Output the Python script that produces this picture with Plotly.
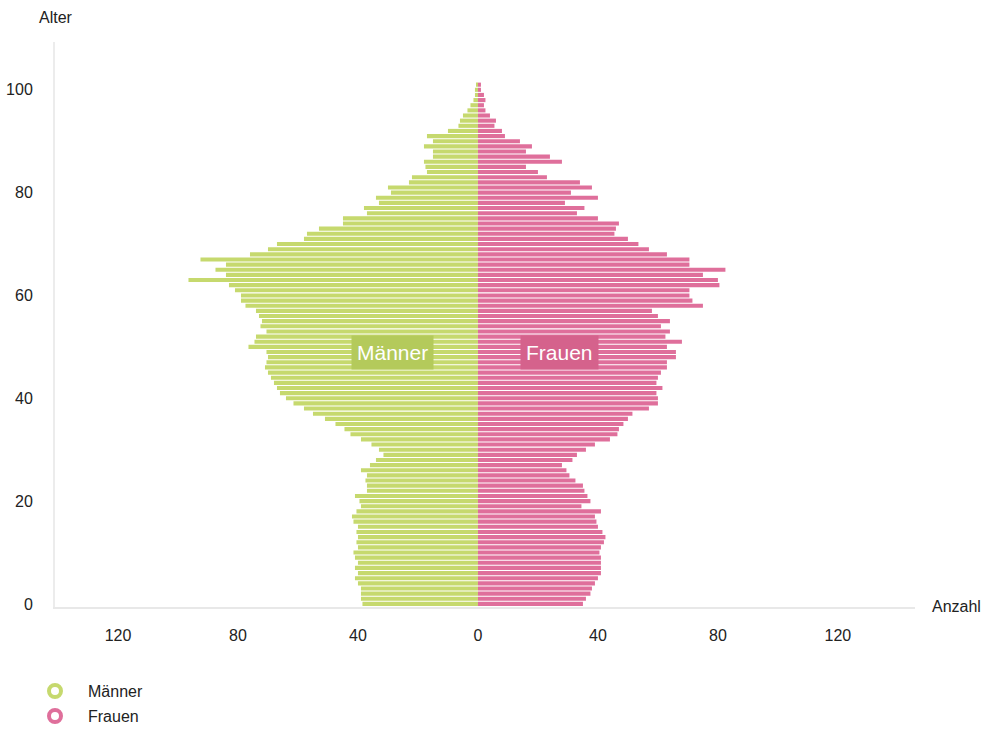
import plotly.graph_objects as go

ages = list(range(0, 102))

maenner = [38.5, 39, 39, 39, 40, 41, 40, 41, 40, 41,
           41.5, 40, 40.5, 40, 40.5, 40, 41.5, 42, 40.5, 39,
           39.5, 41, 37, 37, 37.5, 37, 39, 36, 34, 31.5,
           33, 35.5, 39, 42.5, 44.5, 47.5, 51, 55, 58, 61.5,
           64, 66, 67, 68, 69, 70, 71, 70.5, 70, 70.5,
           76.5, 74.5, 74, 70.5, 72.5, 72, 73, 74, 77.5, 79,
           79, 81, 83, 96.5, 84, 87.5, 84, 92.5, 76, 70,
           67, 58, 57, 53, 45, 45, 37, 38, 33, 34,
           29, 30, 23, 22, 17, 17.5, 18, 15, 15, 18,
           15, 17, 10, 6.5, 6, 5, 3.5, 2.5, 1.5, 1,
           1, 0.5]

frauen = [35, 36, 37.5, 38, 39, 40, 41, 41, 41, 41,
          40.5, 41, 42, 42.5, 41.5, 40, 39.5, 39, 41, 34.5,
          37.5, 36.5, 35.5, 35, 32.5, 30.5, 29.5, 28, 31.5, 33,
          36, 39, 44, 46.5, 47, 48.5, 50, 51.5, 57, 60,
          60, 59.5, 61.5, 59.5, 60, 61, 63, 63, 66, 66,
          63, 68, 62.5, 64, 61, 64, 60, 58, 75, 71.5,
          70.5, 70.5, 80.5, 80, 75, 82.5, 70.5, 70.5, 63, 57,
          53.5, 50, 45.5, 46, 47, 40, 33, 35.5, 29, 40,
          31, 38, 34, 23, 20, 16, 28, 24, 16, 18,
          14, 9, 8, 5.5, 6, 4, 2.5, 2, 2.5, 2,
          1, 1]

x_tickvals = [-120, -80, -40, 0, 40, 80, 120]
x_ticktext = ["120", "80", "40", "0", "40", "80", "120"]
y_tickvals = [0, 20, 40, 60, 80, 100]
series_names = ["Männer", "Frauen"]

GREEN = "#c6d96e"
PINK = "#df6f9b"
GREEN_DARK = "#b4ca5b"
PINK_DARK = "#d5628c"
FONT = "Liberation Sans, Arial, sans-serif"

fig = go.Figure()
fig.add_trace(go.Bar(
    y=ages, x=[-v for v in maenner], orientation="h",
    marker=dict(color=GREEN, line=dict(width=0)),
    name=series_names[0], showlegend=False,
    customdata=maenner, hovertemplate="Alter %{y}: %{customdata}<extra>Männer</extra>",
))
fig.add_trace(go.Bar(
    y=ages, x=frauen, orientation="h",
    marker=dict(color=PINK, line=dict(width=0)),
    name=series_names[1], showlegend=False,
    hovertemplate="Alter %{y}: %{x}<extra>Frauen</extra>",
))

L, R, T, B = 55, 75, 42, 127
W, H = 990, 734
pw = W - L - R
ph = H - T - B


def px_to_paper_x(px):
    return (px - L) / pw


def px_to_paper_y(py):
    return (H - B - py) / ph


annotations = [
    dict(text="Alter", x=px_to_paper_x(37), y=px_to_paper_y(18), xref="paper", yref="paper",
         xanchor="left", yanchor="middle", showarrow=False, font=dict(size=16, color="#222")),
    dict(text="Anzahl", x=px_to_paper_x(930), y=px_to_paper_y(606), xref="paper", yref="paper",
         xanchor="left", yanchor="middle", showarrow=False, font=dict(size=16, color="#222")),
    dict(text="Männer", x=-28.5, y=49, xref="x", yref="y", showarrow=False,
         bgcolor=GREEN_DARK, font=dict(size=21, color="white"), borderpad=5),
    dict(text="Frauen", x=27.3, y=49, xref="x", yref="y", showarrow=False,
         bgcolor=PINK_DARK, font=dict(size=21, color="white"), borderpad=5),
    dict(text=series_names[0], x=px_to_paper_x(86), y=px_to_paper_y(691), xref="paper", yref="paper",
         xanchor="left", yanchor="middle", showarrow=False, font=dict(size=16, color="#222")),
    dict(text=series_names[1], x=px_to_paper_x(86), y=px_to_paper_y(716), xref="paper", yref="paper",
         xanchor="left", yanchor="middle", showarrow=False, font=dict(size=16, color="#222")),
]

shapes = []
for py, col in [(691, GREEN), (716, PINK)]:
    shapes.append(dict(
        type="circle", xref="paper", yref="paper",
        xsizemode="pixel", ysizemode="pixel",
        xanchor=px_to_paper_x(55), yanchor=px_to_paper_y(py),
        x0=-6, x1=6, y0=-6, y1=6,
        line=dict(color=col, width=4), fillcolor="rgba(255,255,255,0.6)",
    ))

fig.update_layout(
    width=W, height=H,
    margin=dict(l=L, r=R, t=T, b=B, pad=0, autoexpand=False),
    paper_bgcolor="white", plot_bgcolor="white",
    barmode="relative", bargap=0.2,
    font=dict(family=FONT, size=14, color="#222"),
    annotations=annotations, shapes=shapes,
    showlegend=False,
)
fig.update_xaxes(
    range=[-141, 145.7], tickvals=x_tickvals, ticktext=x_ticktext, automargin=False,
    showgrid=False, zeroline=False, showline=True, linecolor="#e8e8e8", linewidth=2,
    ticks="", ticklabelstandoff=13, tickfont=dict(size=16, color="#222"),
)
fig.update_yaxes(
    range=[-0.6, 109.3], tickvals=y_tickvals, automargin=False,
    showgrid=False, zeroline=False, showline=True, linecolor="#ececec", linewidth=2,
    ticks="", ticklabelstandoff=17, tickfont=dict(size=16, color="#222"),
)

fig.write_html(
    "out.html",
    config={"displayModeBar": False},
    post_script="document.body.style.margin='0';document.body.style.overflow='hidden';",
)
